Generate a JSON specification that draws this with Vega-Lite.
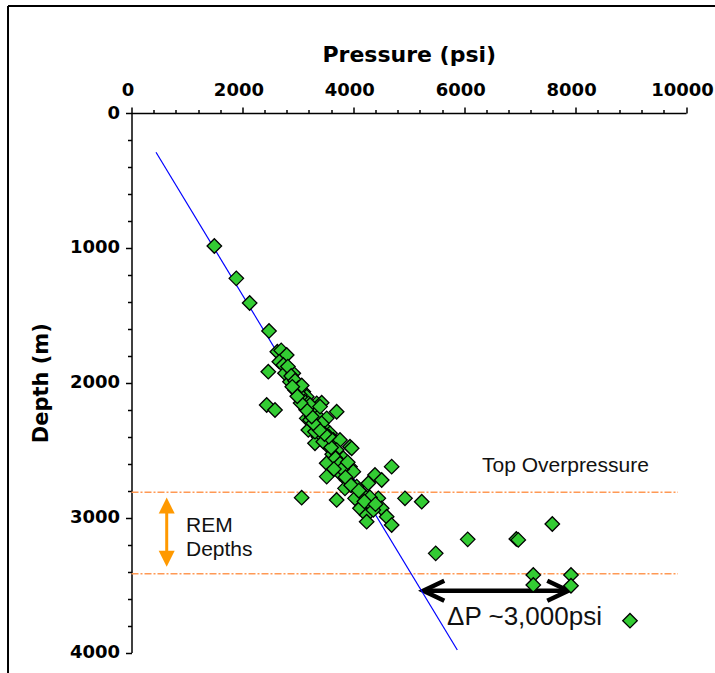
{
  "$schema": "https://vega.github.io/schema/vega-lite/v6.json",
  "width": 554.5,
  "height": 539.5,
  "autosize": {"type": "none"},
  "padding": {"left": 131.5, "top": 113, "right": 29, "bottom": 20.5},
  "background": "white",
  "config": {"view": {"stroke": null}, "font": "Liberation Sans"},
  "data": {"values": [{}]},
  "datasets": {
    "points": [
      {"pressure":1494,"depth":986},{"pressure":1890,"depth":1226},{"pressure":2131,"depth":1409},{"pressure":2480,"depth":1616},
      {"pressure":2630,"depth":1770},{"pressure":2700,"depth":1760},{"pressure":2799,"depth":1794},{"pressure":2666,"depth":1844},
      {"pressure":2467,"depth":1918},{"pressure":2738,"depth":1868},{"pressure":2768,"depth":1930},{"pressure":2918,"depth":1930},
      {"pressure":2858,"depth":1992},{"pressure":2820,"depth":1880},{"pressure":2880,"depth":1950},{"pressure":2950,"depth":1985},
      {"pressure":3008,"depth":2041},{"pressure":2948,"depth":2054},{"pressure":3098,"depth":2066},{"pressure":3160,"depth":2103},
      {"pressure":3039,"depth":2091},{"pressure":3070,"depth":2020},{"pressure":3120,"depth":2140},{"pressure":2438,"depth":2165},
      {"pressure":2588,"depth":2202},{"pressure":3189,"depth":2153},{"pressure":3340,"depth":2153},{"pressure":3430,"depth":2148},
      {"pressure":3700,"depth":2215},{"pressure":3250,"depth":2215},{"pressure":3369,"depth":2252},{"pressure":3160,"depth":2264},
      {"pressure":3520,"depth":2264},{"pressure":3309,"depth":2313},{"pressure":3459,"depth":2326},{"pressure":3189,"depth":2350},
      {"pressure":3580,"depth":2375},{"pressure":3369,"depth":2400},{"pressure":3640,"depth":2424},{"pressure":3309,"depth":2449},
      {"pressure":3520,"depth":2461},{"pressure":3940,"depth":2474},{"pressure":3219,"depth":2165},{"pressure":3400,"depth":2177},
      {"pressure":3219,"depth":2276},{"pressure":3430,"depth":2301},{"pressure":3309,"depth":2363},{"pressure":3459,"depth":2437},
      {"pressure":3760,"depth":2424},{"pressure":3971,"depth":2486},{"pressure":3700,"depth":2499},{"pressure":3520,"depth":2597},
      {"pressure":3820,"depth":2560},{"pressure":3940,"depth":2622},{"pressure":3520,"depth":2696},{"pressure":3760,"depth":2671},
      {"pressure":4000,"depth":2659},{"pressure":4692,"depth":2622},{"pressure":4391,"depth":2684},{"pressure":4512,"depth":2721},
      {"pressure":4271,"depth":2745},{"pressure":3881,"depth":2721},{"pressure":4061,"depth":2770},{"pressure":3850,"depth":2783},
      {"pressure":3069,"depth":2852},{"pressure":3700,"depth":2869},{"pressure":4031,"depth":2857},{"pressure":4181,"depth":2832},
      {"pressure":4451,"depth":2857},{"pressure":4331,"depth":2919},{"pressure":4121,"depth":2931},{"pressure":4512,"depth":2931},
      {"pressure":4241,"depth":2980},{"pressure":4602,"depth":2993},{"pressure":4241,"depth":3030},{"pressure":4692,"depth":3055},
      {"pressure":4932,"depth":2857},{"pressure":5234,"depth":2882},{"pressure":4361,"depth":2943},{"pressure":3620,"depth":2530},
      {"pressure":3680,"depth":2560},{"pressure":3760,"depth":2600},{"pressure":3600,"depth":2480},{"pressure":3560,"depth":2400},
      {"pressure":3480,"depth":2380},{"pressure":3390,"depth":2350},{"pressure":3280,"depth":2300},{"pressure":3250,"depth":2250},
      {"pressure":3150,"depth":2200},{"pressure":3050,"depth":2150},{"pressure":2990,"depth":2100},{"pressure":2900,"depth":2030},
      {"pressure":3800,"depth":2640},{"pressure":3860,"depth":2700},{"pressure":3960,"depth":2760},{"pressure":4100,"depth":2800},
      {"pressure":4300,"depth":2850},{"pressure":4200,"depth":2880},{"pressure":4400,"depth":2900},{"pressure":3900,"depth":2590},
      {"pressure":3650,"depth":2640},{"pressure":5486,"depth":3265},{"pressure":6063,"depth":3161},{"pressure":6940,"depth":3158},
      {"pressure":6975,"depth":3165},{"pressure":7589,"depth":3047},{"pressure":7246,"depth":3425},{"pressure":7246,"depth":3499},
      {"pressure":7926,"depth":3425},{"pressure":7926,"depth":3505},{"pressure":8990,"depth":3764}
    ],
    "trend": [{"pressure":442,"depth":291},{"pressure":5876,"depth":3981}],
    "zones": [{"name":"Top Overpressure","depth":2812,"from":0,"to":9856},{"name":"Base REM","depth":3416,"from":0,"to":9856}]
  },
  "layer": [
    {
      "mark": {"type": "rule", "color": "black", "strokeWidth": 2},
      "encoding": {
        "x": {"datum": -2227, "type": "quantitative", "scale": {"domain": [0, 10000]}, "axis": null},
        "x2": {"datum": 12000},
        "y": {"datum": -794, "type": "quantitative", "scale": {"domain": [0, 4000], "reverse": true}, "axis": null}
      }
    },
    {
      "mark": {"type": "rule", "color": "black", "strokeWidth": 2},
      "encoding": {
        "x": {"datum": -2227, "type": "quantitative", "scale": {"domain": [0, 10000]}, "axis": null},
        "y": {"datum": -794, "type": "quantitative", "scale": {"domain": [0, 4000], "reverse": true}, "axis": null},
        "y2": {"datum": 5000}
      }
    },
    {
      "data": {"name": "zones"},
      "mark": {"type": "rule", "color": "#FF9955", "strokeWidth": 1.5, "strokeDash": [7, 2, 2, 2]},
      "encoding": {
        "x": {"field": "from", "type": "quantitative", "scale": {"domain": [0, 10000]}, "axis": null},
        "x2": {"field": "to"},
        "y": {"field": "depth", "type": "quantitative", "scale": {"domain": [0, 4000], "reverse": true}, "axis": null}
      }
    },
    {
      "mark": {"type": "rule", "color": "#FF9900", "strokeWidth": 3},
      "encoding": {
        "x": {"datum": 635, "type": "quantitative", "scale": {"domain": [0, 10000]}, "axis": null},
        "y": {"datum": 2905, "type": "quantitative", "scale": {"domain": [0, 4000], "reverse": true}, "axis": null},
        "y2": {"datum": 3310}
      }
    },
    {
      "mark": {"type": "point", "shape": "M0,-1L1,1L-1,1Z", "filled": true, "fill": "#FF9900", "stroke": null, "size": 256, "opacity": 1},
      "encoding": {
        "x": {"datum": 635, "type": "quantitative", "scale": {"domain": [0, 10000]}, "axis": null},
        "y": {"datum": 2911, "type": "quantitative", "scale": {"domain": [0, 4000], "reverse": true}, "axis": null}
      }
    },
    {
      "mark": {"type": "point", "shape": "M0,1L1,-1L-1,-1Z", "filled": true, "fill": "#FF9900", "stroke": null, "size": 256, "opacity": 1},
      "encoding": {
        "x": {"datum": 635, "type": "quantitative", "scale": {"domain": [0, 10000]}, "axis": null},
        "y": {"datum": 3304, "type": "quantitative", "scale": {"domain": [0, 4000], "reverse": true}, "axis": null}
      }
    },
    {
      "mark": {"type": "rule", "color": "black", "strokeWidth": 4.5},
      "encoding": {
        "x": {"datum": 5300, "type": "quantitative", "scale": {"domain": [0, 10000]}, "axis": null},
        "x2": {"datum": 7840},
        "y": {"datum": 3542, "type": "quantitative", "scale": {"domain": [0, 4000], "reverse": true}, "axis": null}
      }
    },
    {
      "mark": {"type": "point", "shape": "M2.1,-1L0,0L2.1,1", "filled": false, "stroke": "black", "strokeWidth": 4.5, "size": 400, "opacity": 1},
      "encoding": {
        "x": {"datum": 5262, "type": "quantitative", "scale": {"domain": [0, 10000]}, "axis": null},
        "y": {"datum": 3542, "type": "quantitative", "scale": {"domain": [0, 4000], "reverse": true}, "axis": null}
      }
    },
    {
      "mark": {"type": "point", "shape": "M-2.1,-1L0,0L-2.1,1", "filled": false, "stroke": "black", "strokeWidth": 4.5, "size": 400, "opacity": 1},
      "encoding": {
        "x": {"datum": 7877, "type": "quantitative", "scale": {"domain": [0, 10000]}, "axis": null},
        "y": {"datum": 3542, "type": "quantitative", "scale": {"domain": [0, 4000], "reverse": true}, "axis": null}
      }
    },
    {
      "data": {"name": "trend"},
      "mark": {"type": "line", "color": "#0000FF", "strokeWidth": 1.2},
      "encoding": {
        "x": {"field": "pressure", "type": "quantitative", "scale": {"domain": [0, 10000]},
              "axis": {"orient": "top", "values": [400,800,1200,1600,2400,2800,3200,3600,4400,4800,5200,5600,6400,6800,7200,7600,8400,8800,9200,9600], "labels": false, "domain": false, "grid": false, "title": null, "tickSize": 3.5, "tickColor": "black", "tickWidth": 1.5}},
        "y": {"field": "depth", "type": "quantitative", "scale": {"domain": [0, 4000], "reverse": true},
              "axis": {"orient": "left", "values": [200,400,600,800,1200,1400,1600,1800,2200,2400,2600,2800,3200,3400,3600,3800], "labels": false, "domain": false, "grid": false, "title": null, "tickSize": 4, "tickColor": "black", "tickWidth": 1.5}}
      }
    },
    {
      "data": {"name": "points"},
      "mark": {"type": "point", "shape": "diamond", "filled": true, "fill": "#33CC33", "stroke": "black", "strokeWidth": 1.3, "size": 210, "opacity": 1},
      "encoding": {
        "x": {"field": "pressure", "type": "quantitative", "scale": {"domain": [0, 10000]},
              "axis": {"orient": "top", "values": [0,2000,4000,6000,8000,10000], "format": "d", "title": "Pressure (psi)",
                       "titleFont": "DejaVu Sans", "titleFontSize": 22, "titleFontWeight": "bold", "titleColor": "black", "titlePadding": 15,
                       "labelFont": "DejaVu Sans", "labelFontSize": 18, "labelFontWeight": "bold", "labelColor": "black", "labelPadding": 8,
                       "labelOffset": -4, "labelFlush": false, "labelOverlap": false, "grid": false,
                       "tickSize": 6, "tickColor": "black", "tickWidth": 1.5, "domainColor": "black", "domainWidth": 1.5}},
        "y": {"field": "depth", "type": "quantitative", "scale": {"domain": [0, 4000], "reverse": true},
              "axis": {"orient": "left", "values": [0,1000,2000,3000,4000], "format": "d", "title": "Depth (m)",
                       "titleFont": "DejaVu Sans", "titleFontSize": 21, "titleFontWeight": "bold", "titleColor": "black", "titlePadding": 18,
                       "labelFont": "DejaVu Sans", "labelFontSize": 18, "labelFontWeight": "bold", "labelColor": "black", "labelPadding": 6,
                       "labelFlush": false, "labelOverlap": false, "grid": false,
                       "tickSize": 6, "tickColor": "black", "tickWidth": 1.5, "domainColor": "black", "domainWidth": 1.5}}
      }
    },
    {
      "data": {"values": [{"note": "Top Overpressure", "pressure": 6321, "depth": 2662}]},
      "mark": {"type": "text", "font": "Liberation Sans", "fontSize": 21, "color": "#111111", "align": "left", "baseline": "alphabetic"},
      "encoding": {
        "x": {"field": "pressure", "type": "quantitative", "scale": {"domain": [0, 10000]}, "axis": null},
        "y": {"field": "depth", "type": "quantitative", "scale": {"domain": [0, 4000], "reverse": true}, "axis": null},
        "text": {"field": "note"}
      }
    },
    {
      "data": {"values": [{"note": "REM\nDepths", "pressure": 983, "depth": 3107}]},
      "mark": {"type": "text", "font": "Liberation Sans", "fontSize": 21, "color": "#111111", "align": "left", "baseline": "alphabetic", "lineBreak": "\n", "lineHeight": 24},
      "encoding": {
        "x": {"field": "pressure", "type": "quantitative", "scale": {"domain": [0, 10000]}, "axis": null},
        "y": {"field": "depth", "type": "quantitative", "scale": {"domain": [0, 4000], "reverse": true}, "axis": null},
        "text": {"field": "note"}
      }
    },
    {
      "data": {"values": [{"note": "ΔP ~3,000psi", "pressure": 5690, "depth": 3796}]},
      "mark": {"type": "text", "font": "Liberation Sans", "fontSize": 26, "color": "#111111", "align": "left", "baseline": "alphabetic"},
      "encoding": {
        "x": {"field": "pressure", "type": "quantitative", "scale": {"domain": [0, 10000]}, "axis": null},
        "y": {"field": "depth", "type": "quantitative", "scale": {"domain": [0, 4000], "reverse": true}, "axis": null},
        "text": {"field": "note"}
      }
    }
  ],
  "resolve": {"axis": {"x": "independent", "y": "independent"}}
}
